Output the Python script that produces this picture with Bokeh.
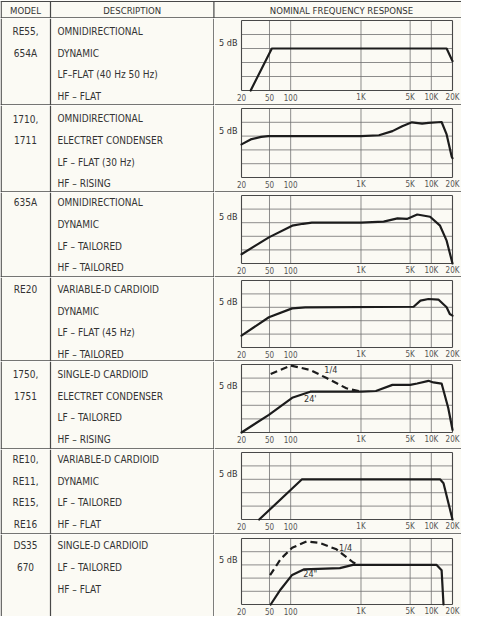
from bokeh.plotting import figure
from bokeh.layouts import column, row
from bokeh.models import Range1d
from bokeh.core.properties import value
from bokeh.embed import file_html
from bokeh.resources import INLINE

# ---------------- data ----------------
header_labels = ["MODEL", "DESCRIPTION", "NOMINAL FREQUENCY RESPONSE"]

models = [
    ["RE55,", "654A"],
    ["1710,", "1711"],
    ["635A"],
    ["RE20"],
    ["1750,", "1751"],
    ["RE10,", "RE11,", "RE15,", "RE16"],
    ["DS35", "670"],
]

descriptions = [
    ["OMNIDIRECTIONAL", "DYNAMIC", "LF–FLAT (40 Hz 50 Hz)", "HF – FLAT"],
    ["OMNIDIRECTIONAL", "ELECTRET CONDENSER", "LF – FLAT (30 Hz)", "HF – RISING"],
    ["OMNIDIRECTIONAL", "DYNAMIC", "LF – TAILORED", "HF – TAILORED"],
    ["VARIABLE-D CARDIOID", "DYNAMIC", "LF – FLAT (45 Hz)", "HF – TAILORED"],
    ["SINGLE-D CARDIOID", "ELECTRET CONDENSER", "LF – TAILORED", "HF – RISING"],
    ["VARIABLE-D CARDIOID", "DYNAMIC", "LF – TAILORED", "HF – FLAT"],
    ["SINGLE-D CARDIOID", "LF – TAILORED", "HF – FLAT"],
]

tick_freqs = [20, 50, 100, 1000, 5000, 10000, 20000]
tick_labels = ["20", "50", "100", "1K", "5K", "10K", "20K"]
db_levels = [10, 5, 0, -5, -10, -15]
scale_label = "5 dB"
scale_label_db = 2

r1_freq = [27, 54, 16500, 20000]
r1_db = [-15, 0, 0, -4.5]

r2_freq = [20, 27, 38, 48, 1000, 1800, 2800, 3850, 5300, 7400, 9100, 14000, 16500, 19500, 20000]
r2_db = [-3, -1.2, -0.3, 0, 0, 0.3, 1.8, 3.6, 5, 4.5, 4.8, 5.1, 0.6, -7.5, -8]

r3_freq = [20, 49, 105, 150, 200, 1000, 2100, 3300, 4500, 6300, 9600, 13300, 16500, 20000]
r3_db = [-11.6, -5.4, -1.1, -0.4, 0, 0, 0.4, 1.6, 1.4, 3, 2.2, -1.1, -6.6, -15]

r4_freq = [20, 49, 105, 161, 5600, 7000, 9100, 12600, 16500, 18300, 20000]
r4_db = [-10.6, -3.7, -0.4, 0, 0.2, 2.5, 3.1, 2.9, 0, -2.5, -3.1]

r5_freq = [20, 49, 105, 190, 1000, 1630, 2800, 5000, 6300, 9100, 10700, 14000, 17400, 20000]
r5_db = [-15, -8.5, -2.25, 0, 0, 0.25, 2.5, 2.5, 3, 4, 3.4, 3, -6, -14]
r5_near_freq = [52, 100, 190, 324, 620, 1000]
r5_near_db = [6.5, 9.6, 8, 5, 1.25, 0]
r5_notes = ["1/4", "24'"]
r5_note_freq = [372, 190]
r5_note_db = [8, -2.5]

r6_freq = [35.7, 145, 13300, 14900, 20000]
r6_db = [-15, 0, 0, -1.5, -15]

r7_freq = [52, 72, 105, 153, 500, 768, 11900, 14000, 14900]
r7_db = [-15, -9.3, -3.8, -1.7, -1.2, 0, 0, -2, -15]
r7_near_freq = [51, 72, 105, 170, 262, 448, 768, 900]
r7_near_db = [-3.9, 2.2, 6.5, 8.9, 8.3, 5.9, 1, 0]
r7_notes = ["1/4", '24"']
r7_note_freq = [603, 190]
r7_note_db = [6.5, -3.6]

curves = [
    (r1_freq, r1_db, None, None, None),
    (r2_freq, r2_db, None, None, None),
    (r3_freq, r3_db, None, None, None),
    (r4_freq, r4_db, None, None, None),
    (r5_freq, r5_db, (r5_near_freq, r5_near_db), r5_notes, (r5_note_freq, r5_note_db)),
    (r6_freq, r6_db, None, None, None),
    (r7_freq, r7_db, (r7_near_freq, r7_near_db), r7_notes, (r7_note_freq, r7_note_db)),
]

# ---------------- layout / style ----------------
FONT = value("'DejaVu Sans Condensed', 'Liberation Sans Narrow', 'Liberation Sans', sans-serif")
BG = "#fbfaf4"
INK = "#333333"
RULE = "#484848"
GRID = "#707070"
CURVE = "#1c1c1c"

TOTAL_W = 461
LEFT_W = 214
RIGHT_W = TOTAL_W - LEFT_W
HEADER_H = 18
row_heights = [87, 87, 85, 84, 88, 85, 82]
box_top = [2, 3, 3, 3, 3, 3, 4]
box_bottom = [72, 72, 71, 70, 71, 70, 70]
first_line = [12.7, 13, 10, 11.7, 12.7, 9.7, 11]
LINE_STEP = 21.8

X_BORDER = 0.7
X_DIV = 50
X_RIGHT = LEFT_W - 0.6
MODEL_X = 25
DESC_X = 57

PAD_L = 27
PAD_R = 9
BOX_W = RIGHT_W - PAD_L - PAD_R
PX_DEC = BOX_W / 3.0
F0 = tick_freqs[0] / 10 ** (PAD_L / PX_DEC)
F1 = tick_freqs[-1] * 10 ** (PAD_R / PX_DEC)


def base_fig(w, h, **kw):
    p = figure(width=w, height=h, output_backend="svg", toolbar_location=None,
               x_axis_location=None, y_axis_location=None, title=None,
               min_border=0, outline_line_color=None,
               background_fill_color=BG, border_fill_color=BG, **kw)
    p.grid.visible = False
    return p


# header
hdr = base_fig(TOTAL_W, HEADER_H, x_range=Range1d(0, TOTAL_W), y_range=Range1d(HEADER_H, 0))
hdr.segment(x0=[0, 0, X_BORDER, X_DIV, X_RIGHT], y0=[1, HEADER_H - 0.6, 1, 1, 1],
            x1=[TOTAL_W, TOTAL_W, X_BORDER, X_DIV, X_RIGHT],
            y1=[1, HEADER_H - 0.6, HEADER_H, HEADER_H, HEADER_H],
            line_color=RULE, line_width=1.2)
hdr.text(x=[MODEL_X, (X_DIV + X_RIGHT) / 2, 341], y=[10, 10, 10], text=header_labels,
         text_font=FONT, text_font_size="9.5px", text_color=INK,
         text_align="center", text_baseline="middle")

rows = [hdr]
n = len(models)
for i in range(n):
    H = row_heights[i]
    last = i == n - 1
    # ---- left: model + description cells
    lp = base_fig(LEFT_W, H, x_range=Range1d(0, LEFT_W), y_range=Range1d(H, 0))
    lp.segment(x0=[X_BORDER, X_DIV, X_RIGHT], y0=[0, 0, 0],
               x1=[X_BORDER, X_DIV, X_RIGHT], y1=[H, H, H],
               line_color=RULE, line_width=1.2)
    if not last:
        lp.segment(x0=[0], y0=[H - 0.6], x1=[LEFT_W], y1=[H - 0.6], line_color=RULE, line_width=1.2)
    my = [first_line[i] + k * LINE_STEP for k in range(len(models[i]))]
    lp.text(x=[MODEL_X] * len(my), y=my, text=models[i], text_font=FONT,
            text_font_size="10px", text_color=INK, text_align="center", text_baseline="middle")
    dy = [first_line[i] + k * LINE_STEP for k in range(len(descriptions[i]))]
    lp.text(x=[DESC_X] * len(dy), y=dy, text=descriptions[i], text_font=FONT,
            text_font_size="10px", text_color=INK, text_align="left", text_baseline="middle")

    # ---- right: response chart
    bt, bb = box_top[i], box_bottom[i]
    top_db, bot_db = max(db_levels), min(db_levels)
    s = (top_db - bot_db) / float(bb - bt)
    y_hi = top_db + bt * s
    y_lo = bot_db - (H - bb) * s
    rp = base_fig(RIGHT_W, H, x_axis_type="log", x_range=Range1d(F0, F1), y_range=Range1d(y_lo, y_hi))
    inner_f = tick_freqs[1:-1]
    inner_db = db_levels[1:-1]
    rp.segment(x0=inner_f, y0=[bot_db] * len(inner_f), x1=inner_f, y1=[top_db] * len(inner_f),
               line_color=GRID, line_width=0.8)
    rp.segment(x0=[tick_freqs[0]] * len(inner_db), y0=inner_db, x1=[tick_freqs[-1]] * len(inner_db),
               y1=inner_db, line_color=GRID, line_width=0.8)
    rp.segment(x0=[tick_freqs[0], tick_freqs[-1], tick_freqs[0], tick_freqs[0]],
               y0=[bot_db, bot_db, bot_db, top_db],
               x1=[tick_freqs[0], tick_freqs[-1], tick_freqs[-1], tick_freqs[-1]],
               y1=[top_db, top_db, bot_db, top_db], line_color=RULE, line_width=1.1)
    if not last:
        sep_y = y_lo + 0.6 * s
        rp.segment(x0=[F0], y0=[sep_y], x1=[F1], y1=[sep_y], line_color=RULE, line_width=1.2)
    rp.text(x=tick_freqs, y=[bot_db - 7.2 * s] * len(tick_freqs), text=tick_labels,
            text_font=FONT, text_font_size="8px", text_color="#555555",
            text_align="center", text_baseline="middle")
    rp.text(x=[tick_freqs[0]], y=[scale_label_db], text=[scale_label], x_offset=-4,
            text_font=FONT, text_font_size="9px", text_color=INK,
            text_align="right", text_baseline="middle")
    fr, db, near, notes, note_pos = curves[i]
    rp.line(fr, db, line_color=CURVE, line_width=2.2, line_join="round", line_cap="round")
    if near is not None:
        rp.line(near[0], near[1], line_color=CURVE, line_width=2.2, line_dash="7 4")
    if notes is not None:
        rp.text(x=note_pos[0], y=note_pos[1], text=notes, text_font=FONT,
                text_font_size="9px", text_color=INK, text_align="center", text_baseline="middle")
    rows.append(row(lp, rp))

layout = column(*rows)
open("out.html", "w").write(file_html(layout, INLINE))
